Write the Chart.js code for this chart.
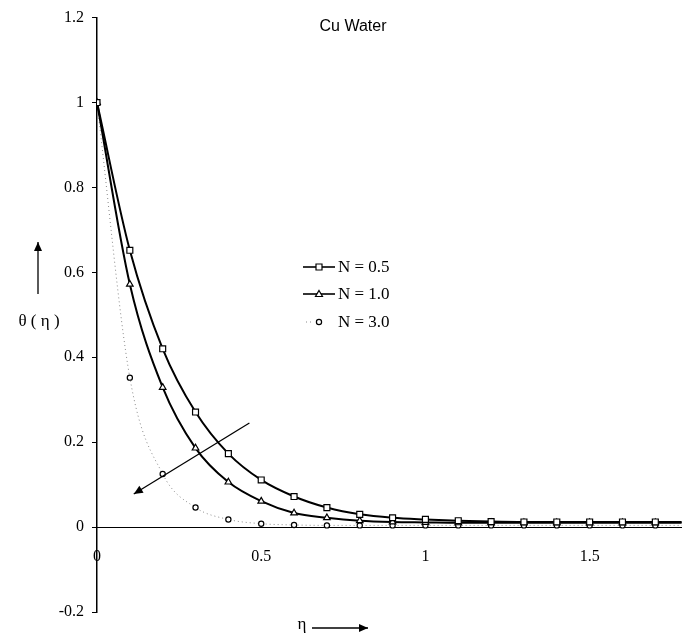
<!DOCTYPE html>
<html>
<head>
<meta charset="utf-8">
<script src="https://cdn.jsdelivr.net/npm/chart.js@4.4.0/dist/chart.umd.min.js"></script>
<style>
  html, body { margin: 0; padding: 0; background: #fff; }
</style>
</head>
<body>
<canvas id="theta-chart" width="687" height="642"></canvas>
<script>
// eta positions of the plotted points
const eta = [0, 0.1, 0.2, 0.3, 0.4, 0.5, 0.6, 0.7, 0.8, 0.9, 1.0,
             1.1, 1.2, 1.3, 1.4, 1.5, 1.6, 1.7, 1.8, 1.9, 2.0];

// theta(eta) for each N
const thetaN05 = [1.0, 0.652, 0.42, 0.271, 0.173, 0.111, 0.072, 0.046, 0.030, 0.022, 0.018,
                  0.015, 0.013, 0.012, 0.012, 0.012, 0.012, 0.012, 0.012, 0.012, 0.012];
const thetaN10 = [1.0, 0.572, 0.329, 0.186, 0.106, 0.061, 0.033, 0.022, 0.015, 0.012, 0.011,
                  0.010, 0.010, 0.010, 0.010, 0.010, 0.010, 0.010, 0.010, 0.010, 0.010];
const thetaN30 = [1.0, 0.352, 0.125, 0.046, 0.018, 0.008, 0.005, 0.004, 0.004, 0.004, 0.004,
                  0.004, 0.004, 0.004, 0.004, 0.004, 0.004, 0.004, 0.004, 0.004, 0.004];

const seriesLabels = ['N = 0.5', 'N = 1.0', 'N = 3.0'];

const xTicks = [0, 0.5, 1, 1.5];
const xTickLabels = ['0', '0.5', '1', '1.5'];
const yTicks = [-0.2, 0, 0.2, 0.4, 0.6, 0.8, 1, 1.2];
const yTickLabels = ['-0.2', '0', '0.2', '0.4', '0.6', '0.8', '1', '1.2'];

// arrow showing the trend with increasing N (data units: from, to)
const trendArrow = [[0.464, 0.245], [0.112, 0.078]];

const SERIF = '"Liberation Serif", "DejaVu Serif", serif';
const SANS = '"Liberation Sans", Arial, sans-serif';

function toPoints(ys) {
    return eta.map((x, i) => ({ x: x, y: ys[i] }));
}

function arrowHead(ctx, x1, y1, x2, y2, len, half) {
    const a = Math.atan2(y2 - y1, x2 - x1);
    ctx.beginPath();
    ctx.moveTo(x2, y2);
    ctx.lineTo(x2 - len * Math.cos(a) + half * Math.sin(a), y2 - len * Math.sin(a) - half * Math.cos(a));
    ctx.lineTo(x2 - len * Math.cos(a) - half * Math.sin(a), y2 - len * Math.sin(a) + half * Math.cos(a));
    ctx.closePath();
    ctx.fill();
}

function arrow(ctx, x1, y1, x2, y2) {
    ctx.beginPath();
    ctx.moveTo(x1, y1);
    ctx.lineTo(x2, y2);
    ctx.stroke();
    arrowHead(ctx, x1, y1, x2, y2, 9, 4);
}

function marker(ctx, style, x, y) {
    ctx.save();
    ctx.fillStyle = '#fff';
    ctx.strokeStyle = '#000';
    ctx.lineWidth = 1.2;
    ctx.setLineDash([]);
    ctx.beginPath();
    if (style === 'rect') {
        ctx.rect(x - 3, y - 3, 6, 6);
    } else if (style === 'triangle') {
        ctx.moveTo(x, y - 3.5);
        ctx.lineTo(x + 3.5, y + 2.5);
        ctx.lineTo(x - 3.5, y + 2.5);
        ctx.closePath();
    } else {
        ctx.arc(x, y, 2.6, 0, Math.PI * 2);
    }
    ctx.fill();
    ctx.stroke();
    ctx.restore();
}

// text, legend and arrows around the plot
const annotations = {
    id: 'annotations',
    afterDraw(chart) {
        const ctx = chart.ctx;
        const xs = chart.scales.x, ys = chart.scales.y;
        ctx.save();

        ctx.fillStyle = '#000';
        ctx.textBaseline = 'middle';
        ctx.font = '16px ' + SANS;
        ctx.textAlign = 'center';
        ctx.fillText('Cu Water', 353, 27);

        // legend
        const rows = [267, 294, 322];
        chart.data.datasets.forEach((ds, i) => {
            const y = rows[i];
            ctx.save();
            ctx.strokeStyle = ds.borderColor;
            ctx.lineWidth = i === 2 ? 1 : 1.6;
            ctx.setLineDash(ds.borderDash || []);
            ctx.beginPath();
            ctx.moveTo(i === 2 ? 306 : 303, y);
            ctx.lineTo(i === 2 ? 314 : 335, y);
            ctx.stroke();
            ctx.restore();
            marker(ctx, ds.pointStyle, 319, y);
            ctx.fillStyle = '#000';
            ctx.font = '17px ' + SERIF;
            ctx.textAlign = 'left';
            ctx.fillText(seriesLabels[i], 338, y + 1);
        });

        // trend arrow
        ctx.strokeStyle = '#000';
        ctx.fillStyle = '#000';
        ctx.lineWidth = 1.3;
        arrow(ctx,
            xs.getPixelForValue(trendArrow[0][0]), ys.getPixelForValue(trendArrow[0][1]),
            xs.getPixelForValue(trendArrow[1][0]), ys.getPixelForValue(trendArrow[1][1]));

        // axis titles with arrows
        ctx.font = '17px ' + SERIF;
        ctx.textAlign = 'center';
        ctx.fillText('\u03B8 ( \u03B7 )', 39, 322);
        arrow(ctx, 38, 294, 38, 242);
        ctx.fillText('\u03B7', 302, 625);
        arrow(ctx, 312, 628, 368, 628);

        ctx.restore();
    }
};

new Chart(document.getElementById('theta-chart'), {
    type: 'line',
    data: {
        datasets: [
            {
                label: seriesLabels[0],
                data: toPoints(thetaN05),
                borderColor: '#000',
                borderWidth: 2,
                pointStyle: 'rect',
                pointRadius: 4.2,
                pointBackgroundColor: '#fff',
                pointBorderColor: '#000',
                pointBorderWidth: 1.2,
                cubicInterpolationMode: 'monotone'
            },
            {
                label: seriesLabels[1],
                data: toPoints(thetaN10),
                borderColor: '#000',
                borderWidth: 2,
                pointStyle: 'triangle',
                pointRadius: 3.8,
                pointBackgroundColor: '#fff',
                pointBorderColor: '#000',
                pointBorderWidth: 1.2,
                cubicInterpolationMode: 'monotone'
            },
            {
                label: seriesLabels[2],
                data: toPoints(thetaN30),
                borderColor: '#8a8a8a',
                borderWidth: 1,
                borderDash: [1, 3],
                pointStyle: 'circle',
                pointRadius: 2.6,
                pointBackgroundColor: '#fff',
                pointBorderColor: '#000',
                pointBorderWidth: 1.2,
                cubicInterpolationMode: 'monotone'
            }
        ]
    },
    options: {
        responsive: false,
        animation: false,
        devicePixelRatio: 1,
        layout: { padding: { top: 15, right: 0, bottom: 30, left: 0 } },
        plugins: {
            legend: { display: false },
            tooltip: { enabled: false }
        },
        scales: {
            x: {
                type: 'linear',
                position: { y: 0 },
                min: 0,
                max: 1.78,
                afterBuildTicks: s => { s.ticks = xTicks.map(v => ({ value: v })); },
                grid: { drawOnChartArea: false, drawTicks: false },
                border: { color: '#000', width: 1 },
                ticks: {
                    padding: 20,
                    color: '#000',
                    font: { family: SERIF, size: 16 },
                    maxRotation: 0,
                    callback: (v, i) => xTickLabels[i]
                }
            },
            y: {
                type: 'linear',
                position: 'left',
                min: -0.2,
                max: 1.2,
                afterBuildTicks: s => { s.ticks = yTicks.map(v => ({ value: v })); },
                afterFit: s => { s.width = 97; },
                grid: { drawOnChartArea: false, drawTicks: true, tickLength: 5, color: '#000' },
                border: { color: '#000', width: 1.5 },
                ticks: {
                    padding: 8,
                    color: '#000',
                    font: { family: SERIF, size: 16 },
                    callback: (v, i) => yTickLabels[i]
                }
            }
        }
    },
    plugins: [annotations]
});
</script>
</body>
</html>
